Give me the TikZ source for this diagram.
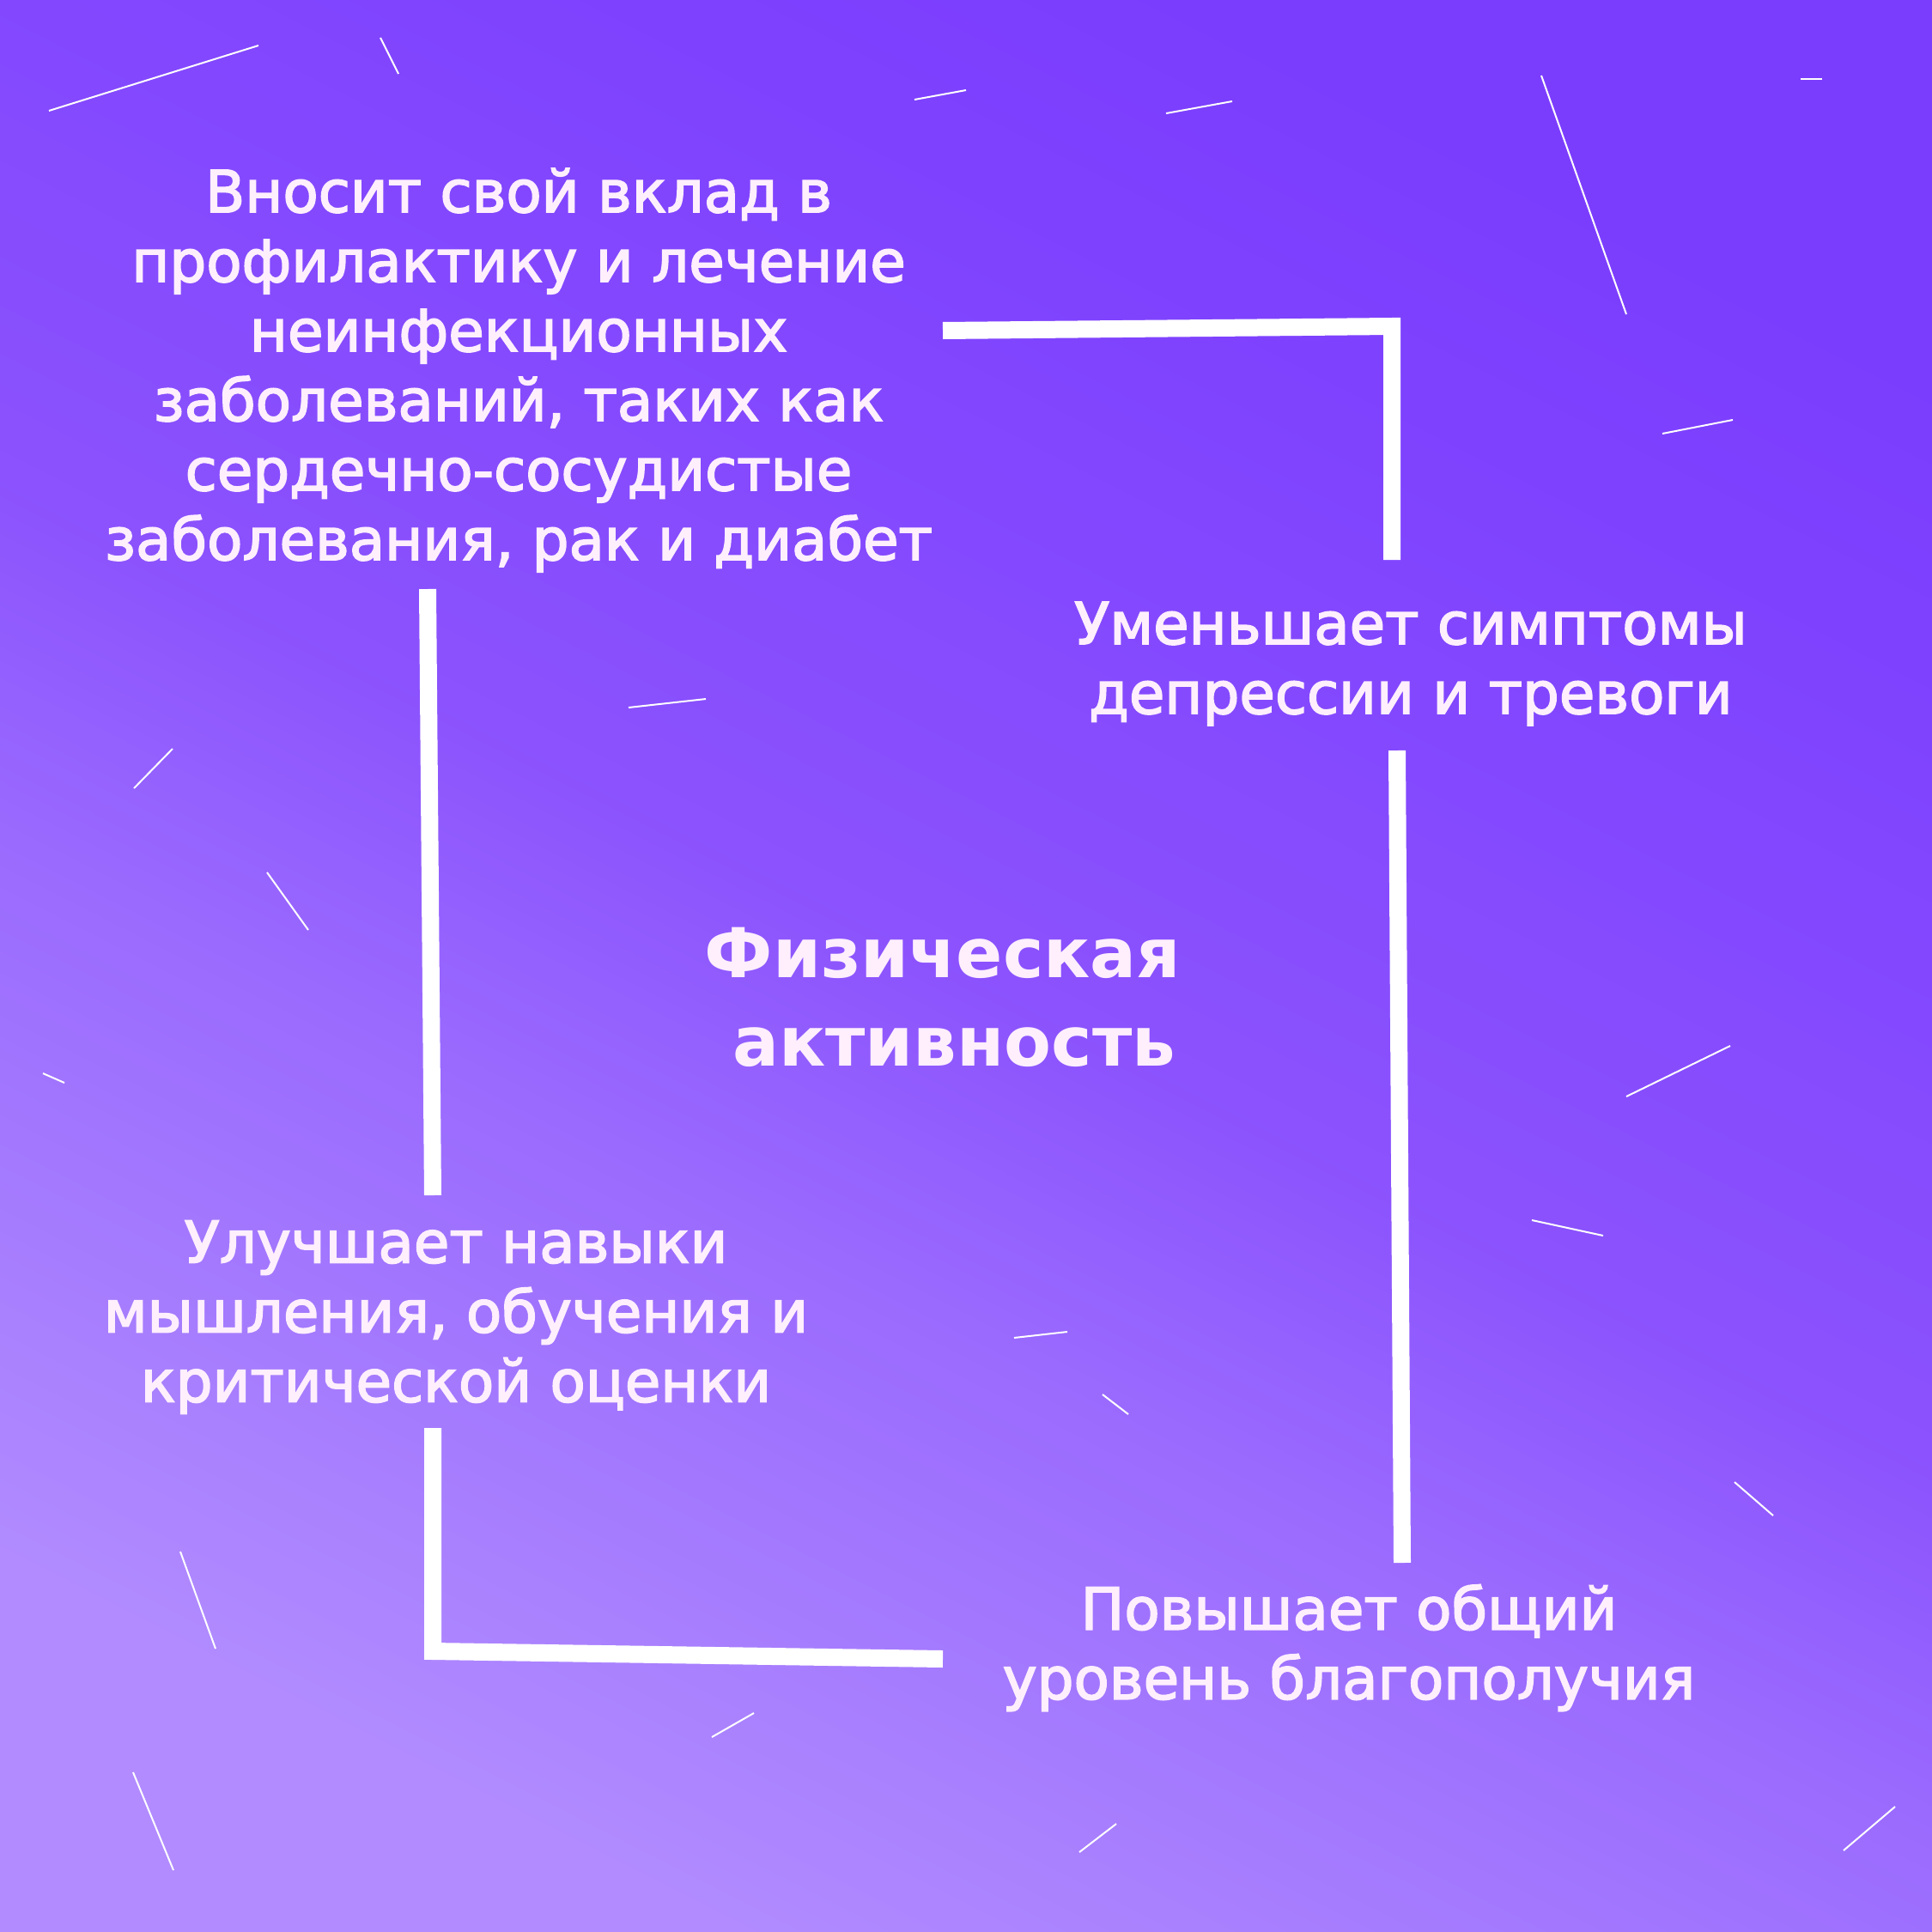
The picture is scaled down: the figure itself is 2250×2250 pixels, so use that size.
\documentclass[tikz,border=0pt]{standalone}
\usepackage{fontspec}
\setmainfont{DejaVu Sans}
\newfontfamily\bodyfont{DejaVu Sans}[FakeBold=2.5]
\definecolor{cA}{HTML}{B18BFF}
\definecolor{cB}{HTML}{A57BFE}
\definecolor{cC}{HTML}{9A6AFE}
\definecolor{cE}{HTML}{8B52FD}
\definecolor{cF}{HTML}{7F43FE}
\definecolor{cG}{HTML}{7B3DFD}
\definecolor{txt}{HTML}{FFEFFD}
\pgfdeclareverticalshading{bgshade}{100bp}{color(0bp)=(cA); color(25bp)=(cA); color(33.3bp)=(cB); color(41.7bp)=(cC); color(50bp)=(cE); color(66.7bp)=(cF); color(75bp)=(cG); color(100bp)=(cG)}
\begin{document}
\begin{tikzpicture}[x=1pt,y=-1pt,
  body/.style={align=center, text=txt, inner sep=0pt, font=\bodyfont\fontsize{67.5}{81}\selectfont},
  ttl/.style={align=center, text=txt, inner sep=0pt, font=\bfseries\fontsize{80}{103}\selectfont},
  bar/.style={draw=white, line width=20pt, line cap=butt, line join=miter},
  deco/.style={draw=white, line width=2pt}]
\useasboundingbox (0,0) rectangle (2250,2250);
\shade[shading=bgshade, shading angle=-27] (0,0) rectangle (2250,2250);
% decorative thin lines
\draw[deco] (57,129) -- (301,53);
\draw[deco] (443,44) -- (464,86);
\draw[deco] (1065,116) -- (1125,105);
\draw[deco] (1358,132) -- (1435,118);
\draw[deco] (1795,88) -- (1894,366);
\draw[deco] (2097,92) -- (2122,92);
\draw[deco] (1936,505) -- (2018,489);
\draw[deco] (732,824) -- (822,814);
\draw[deco] (156,918) -- (201,872);
\draw[deco] (311,1016) -- (359,1083);
\draw[deco] (50,1250) -- (75,1261);
\draw[deco] (1894,1277) -- (2015,1218);
\draw[deco] (1784,1421) -- (1867,1439);
\draw[deco] (1181,1558) -- (1243,1551);
\draw[deco] (1284,1624) -- (1314,1647);
\draw[deco] (2020,1726) -- (2065,1765);
\draw[deco] (210,1807) -- (251,1920);
\draw[deco] (829,2023) -- (878,1995);
\draw[deco] (155,2064) -- (202,2178);
\draw[deco] (1257,2157) -- (1300,2124);
\draw[deco] (2147,2155) -- (2207,2104);
% texts
\node[body] (t1) at (604,431) {Вносит свой вклад в\\профилактику и лечение\\неинфекционных\\заболеваний, таких как\\сердечно-сосудистые\\заболевания, рак и диабет};
\node[body] (t2) at (1643,773) {Уменьшает симптомы\\депрессии и тревоги};
\node[ttl] (t3) at (1098,1161) {Физическая\\\hspace*{26pt}активность};
\node[body] (t4) at (531,1534) {Улучшает навыки\\мышления, обучения и\\критической оценки};
\node[body] (t5) at (1571,1919) {Повышает общий\\уровень благополучия};
% connector bars
\coordinate (a1) at (1098,385);
\coordinate (a2) at (1621,380);
\coordinate (a3) at (1621,652);
\coordinate (b1) at (498,686);
\coordinate (b2) at (504,1392);
\coordinate (c1) at (1627,874);
\coordinate (c2) at (1633,1820);
\coordinate (d1) at (504,1663);
\coordinate (d2) at (504,1923);
\coordinate (d3) at (1098,1932);
\draw[bar] (a1) -- (a2) -- (a3);
\draw[bar] (b1) -- (b2);
\draw[bar] (c1) -- (c2);
\draw[bar] (d1) -- (d2) -- (d3);
\end{tikzpicture}
\end{document}
